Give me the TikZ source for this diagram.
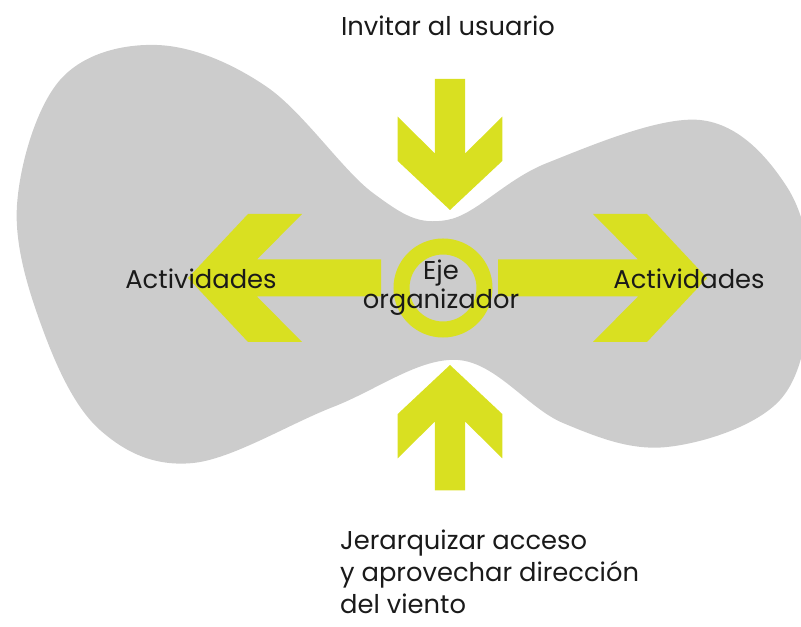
\documentclass[tikz,border=0pt]{standalone}
\usepackage{fontspec}
\setmainfont{Poppins}
\usetikzlibrary{positioning}
\definecolor{blobgrey}{HTML}{CCCCCC}
\definecolor{lime}{HTML}{D9E021}
\definecolor{ink}{HTML}{1A1A1A}
\tikzset{
  zone/.style={fill=blobgrey},
  chev/.style={fill=lime},
  ring/.style={draw=lime, line width=0.48cm},
  lab/.style={font=\fontsize{22}{27}\selectfont, text=ink, inner sep=0pt},
}

\begin{document}
\begin{tikzpicture}[x=0.03cm, y=-0.03cm]
  \useasboundingbox (0,0) rectangle (801,627);
  % grey area
  \fill[zone] plot[smooth cycle, tension=0.6] coordinates {
    (157,45) (267,87) (373,193) (447,220) (547,163) (700,120) (787,187)
    (810,290) (780,400) (667,447) (563,423) (458,360) (333,407) (193,463)
    (100,430) (43,330) (17,205) (60,80)};
  % arrows: tip x / tip y / angle / size / shaft
  \foreach \x/\y/\ang/\s/\len in {188/278/180/1/193, 707/278/0/1/209,
      450/210/-90/0.82/160, 450/365/90/0.82/153} {
    \fill[chev, shift={(\x,\y)}, rotate=\ang, scale=\s]
      (0,0) -- (-60,64) -- (-114,64) -- (-69,18.5) -- (-\len,18.5)
      -- (-\len,-18.5) -- (-69,-18.5) -- (-114,-64) -- (-60,-64) -- cycle;
  }
  \draw[ring] (443,288) circle (41.5);
  % labels
  \node[lab, anchor=base] (invitar) at (448,36) {Invitar al usuario};
  \node[lab, anchor=base] (actleft) at (201,289) {Actividades};
  \node[lab, anchor=base] (actright) at (689,289) {Actividades};
  \node[lab, align=center, font=\fontsize{22}{24.6}\selectfont] (eje) at (441,288) {Eje\\organizador};
  \node[lab, align=left, anchor=north west] (acceso) at (340,530)
    {Jerarquizar acceso\\y aprovechar dirección\\del viento};
\end{tikzpicture}
\end{document}
